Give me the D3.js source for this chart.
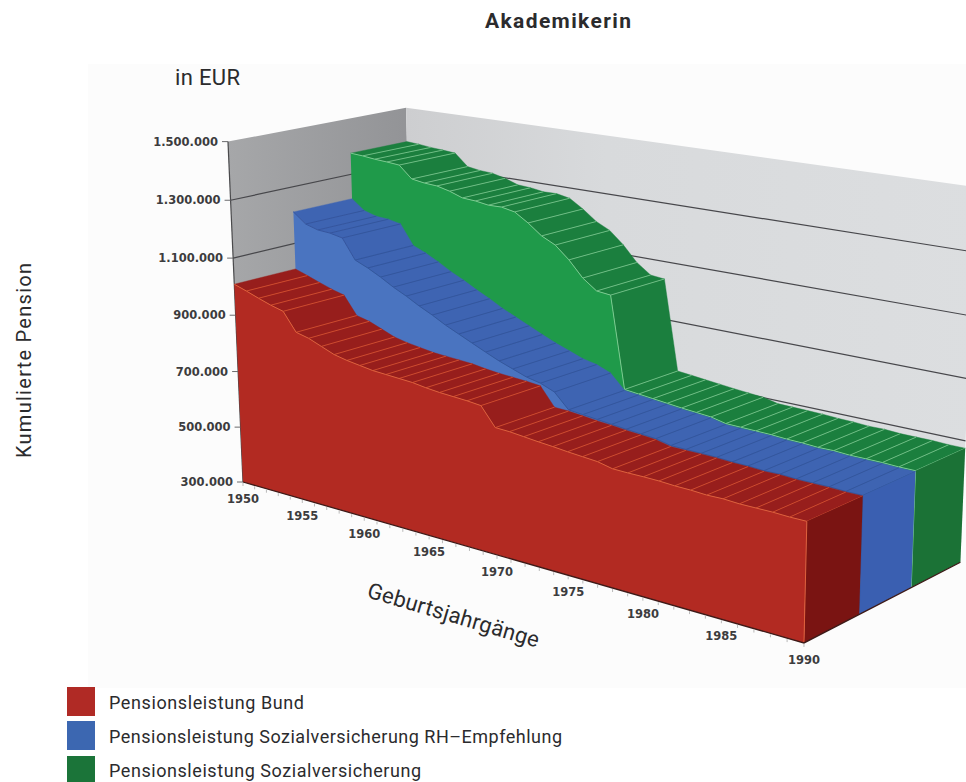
<!DOCTYPE html>
<html lang="de">
<head>
<meta charset="utf-8">
<title>Akademikerin</title>
<script src="https://cdn.jsdelivr.net/npm/d3@7"></script>
<style>
  html, body { margin: 0; padding: 0; background: #fff; }
  svg { display: block; }
  .label { font-family: Roboto, sans-serif; fill: #2b2b2d; }
  .tick { font-family: "DejaVu Sans", sans-serif; font-weight: bold; font-size: 11.5px; fill: #3c3c3e; }
</style>
</head>
<body>
<svg id="chart" width="966" height="782"></svg>
<script>
// Birth cohorts 1950-1990, one value per cohort, cumulative pension in EUR.
const cohortStart = 1950;
const cohortEnd = 1990;
const xTickYears = [1950, 1955, 1960, 1965, 1970, 1975, 1980, 1985, 1990];
const yTickValues = [300000, 500000, 700000, 900000, 1100000, 1300000, 1500000];
const gridValues = [500000, 700000, 900000, 1100000, 1300000];

const pensionBund = [
  1009000, 994000, 978000, 963000, 951000, 888000, 877000, 859000, 841000, 831000,
  824000, 817000, 814000, 811000, 808000, 801000, 796000, 793000, 790000, 785000,
  724000, 722000, 717000, 712000, 708000, 703000, 699000, 695000, 684000, 683000,
  683000, 682000, 679000, 678000, 675000, 676000, 673000, 673000, 673000, 671000, 671000
];
const pensionRH = [
  1212000, 1177000, 1164000, 1161000, 1152000, 1083000, 1064000, 1041000, 1015000, 993000,
  968000, 946000, 921000, 900000, 879000, 858000, 838000, 821000, 804000, 794000,
  775000, 726000, 721000, 716000, 711000, 706000, 702000, 698000, 687000, 686000,
  685000, 684000, 681000, 680000, 677000, 678000, 675000, 675000, 675000, 673000, 673000
];
const pensionSV = [
  1376000, 1373000, 1368000, 1365000, 1361000, 1319000, 1312000, 1309000, 1298000, 1282000,
  1279000, 1272000, 1273000, 1264000, 1234000, 1198000, 1175000, 1133000, 1080000, 1045000,
  1040000, 729000, 724000, 719000, 714000, 709000, 705000, 701000, 690000, 689000,
  688000, 687000, 684000, 683000, 680000, 681000, 678000, 678000, 678000, 676000, 676000
];

const seriesNames = [
  "Pensionsleistung Bund",
  "Pensionsleistung Sozialversicherung RH\u2013Empfehlung",
  "Pensionsleistung Sozialversicherung"
];

// Scales from data space into the unit box of the 3D scene.
const tScale = d3.scaleLinear().domain([cohortStart, cohortEnd]).range([0, 1]);
const vScale = d3.scaleLinear().domain([300000, 1500000]).range([0, 1]);
const dScale = d3.scaleLinear().domain([0, 3]).range([0, 1]);

// Perspective: origin of the box, one vanishing point per axis and its weight.
const origin = [243, 482];
const vpT = [-2448, -290], wT = -0.1725;
const vpV = [611, 8825],   wV = -0.0392;
const vpD = [2684, -327],  wD = 0.0751;

function project(year, value, lane) {
  const t = tScale(year) * wT, v = vScale(value) * wV, d = dScale(lane) * wD;
  const w = 1 + t + v + d;
  return [
    (origin[0] + t * vpT[0] + v * vpV[0] + d * vpD[0]) / w,
    (origin[1] + t * vpT[1] + v * vpV[1] + d * vpD[1]) / w
  ];
}

const svg = d3.select("#chart");
const path = d3.line();
const closed = pts => path(pts) + "Z";
const years = d3.range(cohortStart, cohortEnd + 1);
const base = vScale.domain()[0], top_ = vScale.domain()[1];

// Shaded walls
const defs = svg.append("defs");
const grad = (id, stops) => {
  const g = defs.append("linearGradient").attr("id", id);
  stops.forEach(([o, c]) => g.append("stop").attr("offset", o).attr("stop-color", c));
};
grad("wallSide", [[0, "#a6a7a9"], [1, "#929396"]]);
grad("wallBack", [[0, "#cdced0"], [0.35, "#d8dadc"], [1, "#dcdee0"]]);

// Faint panel behind the scene
svg.append("rect").attr("x", 88).attr("y", 64).attr("width", 878).attr("height", 624).attr("fill", "#fcfcfc");

svg.append("path").attr("fill", "url(#wallSide)").attr("d", closed([
  project(cohortStart, top_, 0), project(cohortStart, top_, 3),
  project(cohortStart, base, 3), project(cohortStart, base, 0)
]));
svg.append("path").attr("fill", "url(#wallBack)").attr("d", closed([
  project(cohortStart, top_, 3), project(cohortEnd, top_, 3),
  project(cohortEnd, base, 3), project(cohortStart, base, 3)
]));

// Gridlines across both walls
gridValues.forEach(v => {
  svg.append("path").attr("fill", "none").attr("stroke", "#47474b").attr("stroke-width", 1.2).attr("d", path([
    project(cohortStart, v, 0), project(cohortStart, v, 3), project(cohortEnd, v, 3)
  ]));
});

// Value axis
svg.append("path").attr("fill", "none").attr("stroke", "#4a4a4c").attr("stroke-width", 1.2)
  .attr("d", path([project(cohortStart, top_, 0), project(cohortStart, base, 0)]));
yTickValues.forEach(v => {
  const [x, y] = project(cohortStart, v, 0);
  svg.append("line").attr("x1", x - 6).attr("x2", x).attr("y1", y).attr("y2", y)
    .attr("stroke", "#6b6b6d").attr("stroke-width", 1);
  svg.append("text").attr("class", "tick").attr("x", x - 10).attr("y", y + 4)
    .attr("text-anchor", "end").text(d3.format(",")(v).replace(/,/g, "."));
});

// One extruded band per series, farthest first
const bands = [
  { values: pensionSV, lane: 2, front: "#1f9a4a", top: "#1b7f3e", end: "#1b7236", rib: "#6dbd83", edge: "#79cb8f" },
  { values: pensionRH, lane: 1, front: "#4a74c0", top: "#3e64b2", end: "#3a5fb1", rib: "#34559f", edge: "#34559f" },
  { values: pensionBund, lane: 0, front: "#b22a22", top: "#971e1c", end: "#7a1412", rib: "#cf4a2c", edge: "#e0603a" }
];

bands.forEach(b => {
  const g = svg.append("g");
  const near = b.lane, far = b.lane + 1;
  const quads = d3.pairs(years.map((y, i) => ({ y, v: b.values[i] })));

  // Sloped roof between neighbouring cohorts
  g.selectAll("path.roof").data(quads).join("path").attr("class", "roof")
    .attr("fill", b.top).attr("stroke", b.top).attr("stroke-width", 0.4)
    .attr("d", ([p, q]) => closed([
      project(p.y, p.v, near), project(p.y, p.v, far),
      project(q.y, q.v, far), project(q.y, q.v, near)
    ]));
  g.selectAll("path.rib").data(years.slice(1)).join("path").attr("class", "rib")
    .attr("fill", "none").attr("stroke", b.rib).attr("stroke-width", 1)
    .attr("d", y => {
      const v = b.values[y - cohortStart];
      return path([project(y, v, near), project(y, v, far)]);
    });

  // Closing face at the youngest cohort
  const last = b.values[b.values.length - 1];
  g.append("path").attr("fill", b.end).attr("d", closed([
    project(cohortEnd, last, near), project(cohortEnd, last, far),
    project(cohortEnd, base, far), project(cohortEnd, base, near)
  ]));

  // Front face and its highlighted top edge
  const edge = years.map((y, i) => project(y, b.values[i], near));
  g.append("path").attr("fill", b.front).attr("d", closed([
    ...edge, project(cohortEnd, base, near), project(cohortStart, base, near)
  ]));
  g.append("path").attr("fill", "none").attr("stroke", b.edge).attr("stroke-width", 1)
    .attr("d", path([...edge, project(cohortEnd, base, near)]));
});

// Floor edges and cohort axis
svg.append("path").attr("fill", "none").attr("stroke", "#3e1a18").attr("stroke-width", 1.3)
  .attr("d", path([project(cohortStart, base, 0), project(cohortEnd, base, 0), project(cohortEnd, base, 3)]));
years.forEach(y => {
  const [x, yy] = project(y, base, 0);
  svg.append("line").attr("x1", x).attr("x2", x).attr("y1", yy + 1).attr("y2", yy + 4)
    .attr("stroke", "#b9b9b9").attr("stroke-width", 1);
});
xTickYears.forEach(y => {
  const [x, yy] = project(y, base, 0);
  svg.append("text").attr("class", "tick").attr("x", x).attr("y", yy + 21)
    .attr("text-anchor", "middle").text(y);
});

// Title and axis captions, fitted to the widths they occupy
const caption = (txt, size, len, attrs) => {
  const t = svg.append("text").attr("class", "label").attr("font-size", size)
    .attr("textLength", len).attr("lengthAdjust", "spacing").text(txt);
  Object.entries(attrs).forEach(([k, v]) => t.attr(k, v));
  return t;
};
caption("Akademikerin", 21, 146, { x: 485, y: 28, "font-weight": "bold" });
caption("in EUR", 22, 65, { x: 175, y: 85 });
caption("Kumulierte Pension", 20, 195, { transform: "translate(31,458) rotate(-90)" });
caption("Geburtsjahrg\u00e4nge", 22, 178, { transform: "translate(366,597) rotate(16.5)" });

// Legend
const swatches = ["#b02a25", "#3c67b1", "#1b7439"];
const rowY = [687, 721, 756];
seriesNames.forEach((name, i) => {
  svg.append("rect").attr("x", 67).attr("y", rowY[i]).attr("width", 28).attr("height", 29).attr("fill", swatches[i]);
});
caption(seriesNames[0], 18, 195, { x: 109, y: 709 });
caption(seriesNames[1], 18, 453, { x: 109, y: 743 });
caption(seriesNames[2], 18, 312, { x: 109, y: 777 });
</script>
</body>
</html>
